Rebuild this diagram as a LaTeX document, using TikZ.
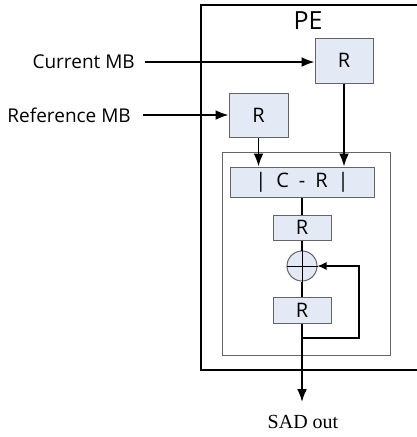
\documentclass[tikz,border=0pt]{standalone}
\usepackage{fontspec}
\setmainfont{Open Sans}
\newfontfamily\sadfont{Liberation Serif}
\usetikzlibrary{arrows.meta}
\definecolor{regfill}{RGB}{228,234,245}
\definecolor{regline}{RGB}{100,100,100}
\begin{document}
\begin{tikzpicture}[x=1pt,y=-1pt,>={Latex[length=13pt,width=10pt]},
  reg/.style={draw=regline,fill=regfill,line width=1pt,inner sep=0pt,
    font=\fontsize{20}{22}\selectfont},
  wire/.style={line width=1.8pt},
  lbl/.style={inner sep=0pt,font=\fontsize{19}{21}\selectfont}]
 \useasboundingbox (0,0) rectangle (417,437);
 % frames
 \draw[line width=2pt] (201,5) rectangle (430,370);
 \draw[regline,line width=0.8pt] (222,152) rectangle (390,355);
 \node[inner sep=0pt,font=\fontsize{25}{27}\selectfont] (pe) at (308,21) {PE};
 % registers
 \node[reg,minimum width=58pt,minimum height=45pt] (curR) at (344,60.5) {R};
 \node[reg,minimum width=59pt,minimum height=44pt] (refR) at (258.5,115) {R};
 \node[reg,minimum width=144pt,minimum height=30pt] (cr) at (302,182) {|\enspace C\enspace-\enspace R\enspace|};
 \node[reg,minimum width=58pt,minimum height=25pt] (rmid) at (302,227.5) {R};
 \node[draw=regline,fill=regfill,line width=1pt,circle,minimum size=30pt,inner sep=0pt] (add) at (302,266) {};
 \node[reg,minimum width=58pt,minimum height=26pt] (rbot) at (302,310) {R};
 \draw[line width=1pt] (add.north) -- (add.south) (add.west) -- (add.east);
 % inputs
 \node[lbl,anchor=east] (cur) at (135,62) {Current MB};
 \node[lbl,anchor=east] (ref) at (131,115) {Reference MB};
 \draw[wire,->] (cur.east) ++(10pt,0) coordinate (curS) -- (curS -| curR.west);
 \draw[wire,->] (ref.east) ++(12pt,0) coordinate (refS) -- (refS -| refR.west);
 \draw[wire,->] (curR.south) -- (curR.south |- cr.north);
 \draw[wire,->] (refR.south) -- (refR.south |- cr.north);
 \draw[wire] (cr.south) -- (rmid.north);
 \draw[wire] (rmid.south) -- (add.north);
 \draw[wire] (add.south) -- (rbot.north);
 % accumulate and output
 \coordinate (fb) at (359,338);
 \draw[line width=1.2pt,-{Latex[length=9pt,width=8pt]}] (rbot.south |- fb) -- (fb) |- (add.east);
 \node[inner sep=0pt,font=\sadfont\fontsize{20}{22}\selectfont] (sad) at (303,422) {SAD out};
 \draw[wire,->] (rbot.south) -- (302,402) coordinate (outS);
\end{tikzpicture}
\end{document}
